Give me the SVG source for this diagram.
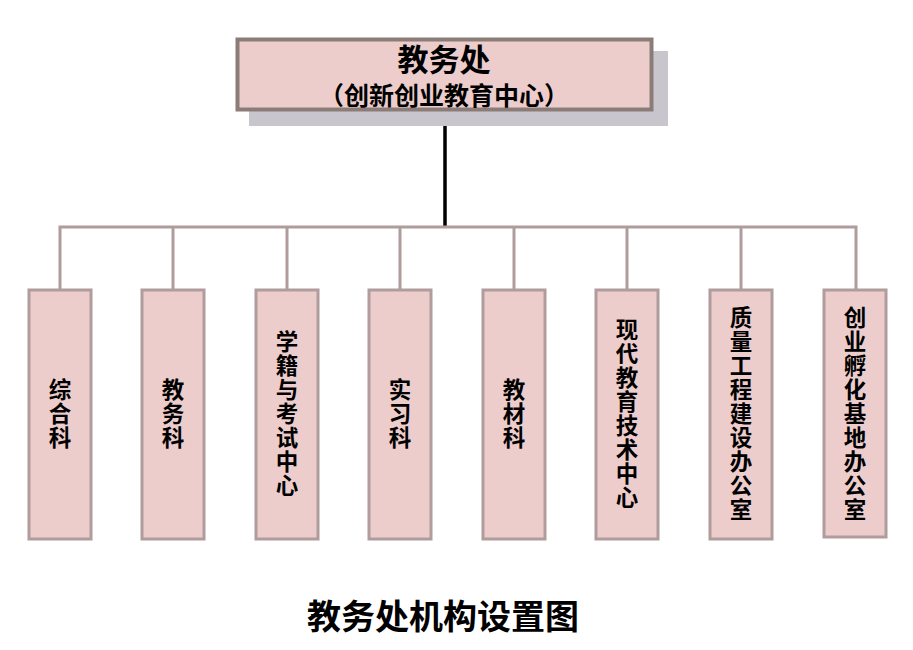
<svg xmlns="http://www.w3.org/2000/svg" width="913" height="650" viewBox="0 0 913 650">
<style>
.t{font-family:"Noto Sans CJK SC","Noto Sans",sans-serif;font-weight:bold;fill:#000;text-anchor:middle;dominant-baseline:central}
.v{font-family:"Noto Sans CJK SC","Noto Sans",sans-serif;font-weight:bold;fill:#000;text-anchor:middle;font-size:22.5px;writing-mode:vertical-rl;letter-spacing:1.5px}
.box{fill:#ECCDCC;stroke:#B09C9C;stroke-width:3}
.conn{stroke:#B09C9C;stroke-width:3;fill:none}
</style>
<rect width="913" height="650" fill="#fff"/>
<g id="connectors">
<line x1="445" y1="111" x2="445" y2="226" stroke="#000" stroke-width="3.5"/>
<polyline class="conn" points="60,290 60,227 856,227 856,290"/>
<line class="conn" x1="173" y1="227" x2="173" y2="290"/>
<line class="conn" x1="287" y1="227" x2="287" y2="290"/>
<line class="conn" x1="400" y1="227" x2="400" y2="290"/>
<line class="conn" x1="514" y1="227" x2="514" y2="290"/>
<line class="conn" x1="627" y1="227" x2="627" y2="290"/>
<line class="conn" x1="741" y1="227" x2="741" y2="290"/>
</g>
<g id="top">
<rect x="249" y="51" width="419" height="75" fill="#C8C6CC"/>
<rect x="237.5" y="39.5" width="414" height="70" fill="#ECCDCC" stroke="#8C7C78" stroke-width="4"/>
<text class="t" x="444" y="57" font-size="31">教务处</text>
<text class="t" x="444" y="94" font-size="25">（创新创业教育中心）</text>
</g>
<g id="n1">
<rect class="box" x="29" y="290" width="62" height="249"/>
<text class="v" x="60" y="414">综合科</text>
</g>
<g id="n2">
<rect class="box" x="142" y="290" width="62" height="249"/>
<text class="v" x="173" y="414">教务科</text>
</g>
<g id="n3">
<rect class="box" x="256" y="290" width="62" height="249"/>
<text class="v" x="287" y="414">学籍与考试中心</text>
</g>
<g id="n4">
<rect class="box" x="369" y="290" width="62" height="249"/>
<text class="v" x="400" y="414">实习科</text>
</g>
<g id="n5">
<rect class="box" x="483" y="290" width="62" height="249"/>
<text class="v" x="514" y="414">教材科</text>
</g>
<g id="n6">
<rect class="box" x="596" y="290" width="62" height="249"/>
<text class="v" x="627" y="414">现代教育技术中心</text>
</g>
<g id="n7">
<rect class="box" x="710" y="290" width="62" height="249"/>
<text class="v" x="741" y="414">质量工程建设办公室</text>
</g>
<g id="n8">
<rect class="box" x="824" y="290" width="62" height="247"/>
<text class="v" x="855" y="414">创业孵化基地办公室</text>
</g>
<text class="t" x="443" y="614" font-size="34">教务处机构设置图</text>
</svg>
